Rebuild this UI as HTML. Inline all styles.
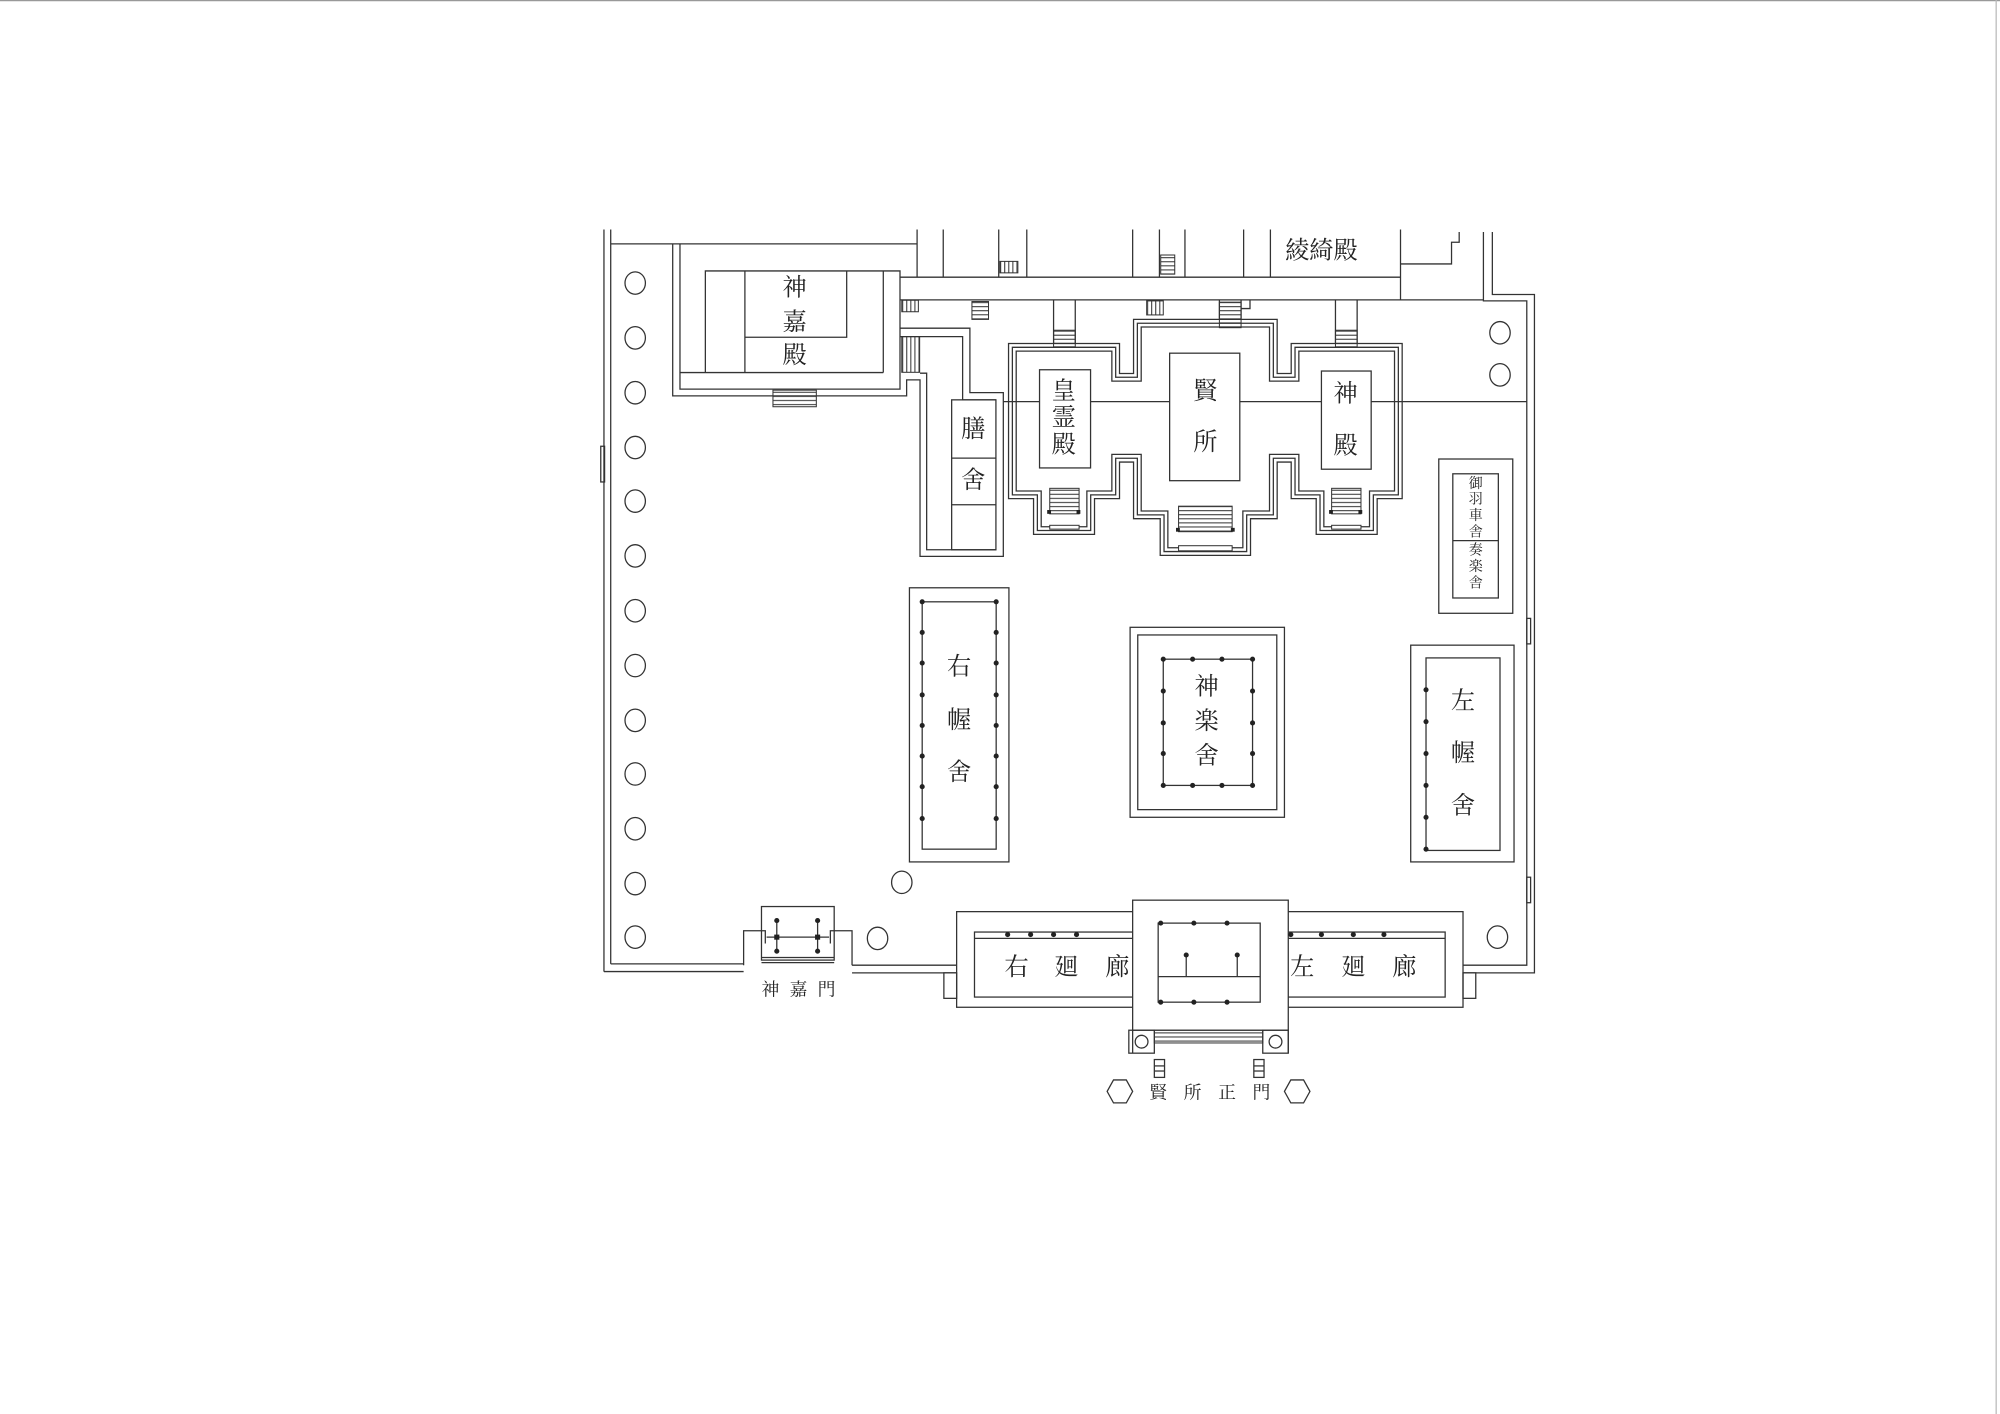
<!DOCTYPE html>
<html><head><meta charset="utf-8"><style>
html,body{margin:0;padding:0;background:#fff;}
svg{display:block;}
text{font-family:"Liberation Serif","Noto Serif CJK SC","Noto Sans CJK JP",serif;fill:#222;text-anchor:middle;dominant-baseline:central;}
</style></head><body>
<svg width="2000" height="1414" viewBox="0 0 1568 1109" preserveAspectRatio="none" xmlns="http://www.w3.org/2000/svg">
<defs>
<pattern id="hs" width="4" height="3.2" patternUnits="userSpaceOnUse"><line x1="0" y1="0.5" x2="4" y2="0.5" stroke="#333" stroke-width="0.8"/></pattern>
<pattern id="vs" width="3.2" height="4" patternUnits="userSpaceOnUse"><line x1="0.5" y1="0" x2="0.5" y2="4" stroke="#333" stroke-width="0.8"/></pattern>
</defs>
<rect width="1568" height="1109" fill="#fff"/>
<line x1="0" y1="0.5" x2="1568" y2="0.5" stroke="#999" stroke-width="1"/>
<line x1="1565" y1="0" x2="1565" y2="1109" stroke="#bbb" stroke-width="1"/>
<g fill="none" stroke="#333" stroke-width="1">
<!-- enclosure -->
<line x1="473.5" y1="180" x2="473.5" y2="762"/>
<line x1="478.8" y1="180" x2="478.8" y2="756"/>
<line x1="478.8" y1="191.3" x2="719" y2="191.3"/>
<polyline points="473.5,762 583,762"/><polyline points="478.8,756 583,756"/>
<polyline points="668,757 750,757"/><polyline points="668,763 750,763"/>
<polyline points="1147,757 1197,757 1197,236 1163,236 1163,182"/>
<polyline points="1147,763 1203,763 1203,231 1170,231 1170,182"/>
<rect x="471" y="350" width="3" height="28"/><rect x="1197" y="485" width="3" height="20"/><rect x="1197" y="688" width="3" height="20"/>
<!-- top corridors -->
<line x1="705.6" y1="217.4" x2="1098" y2="217.4"/>
<line x1="705.6" y1="235.2" x2="1163" y2="235.2"/>
<line x1="719" y1="180" x2="719" y2="217"/><line x1="739.5" y1="180" x2="739.5" y2="217"/>
<line x1="783" y1="180" x2="783" y2="217"/><line x1="805" y1="180" x2="805" y2="217"/>
<line x1="888" y1="180" x2="888" y2="217"/><line x1="909" y1="180" x2="909" y2="217"/>
<line x1="929" y1="180" x2="929" y2="217"/><line x1="975" y1="180" x2="975" y2="217"/>
<line x1="996" y1="180" x2="996" y2="217"/><line x1="1098" y1="180" x2="1098" y2="235"/>
<polyline points="1098,207 1138,207 1138,190 1144,190 1144,182"/>
<!-- 神嘉殿 -->
<polyline points="527.4,191.3 527.4,310.5 710.8,310.5 710.8,297.9 721.3,297.9 721.3,436.4 786.6,436.4 786.6,307.9 760.4,307.9 760.4,257.4 705.6,257.4"/>
<polyline points="533.1,191.3 533.1,305.2 705.6,305.2 705.6,212.5 553,212.5 553,292.2"/>
<line x1="533.1" y1="292.2" x2="692.5" y2="292.2"/>
<line x1="584" y1="212.5" x2="584" y2="292.2"/><line x1="692.5" y1="212.5" x2="692.5" y2="292.2"/>
<polyline points="584,264.5 663.8,264.5 663.8,212.5"/>
<polyline points="705.6,264 754.7,264 754.7,313.6 780.8,313.6"/>
<polyline points="721.3,292.7 726.5,292.7 726.5,431.2 780.8,431.2"/>
<rect x="746.1" y="313.6" width="34.7" height="117.6"/>
<line x1="746.1" y1="359.3" x2="780.8" y2="359.3"/><line x1="746.1" y1="395.9" x2="780.8" y2="395.9"/>
<!-- central complex triple outline -->
<g stroke-linejoin="miter">
<polygon id="cx" points="945,253.5 998.3,253.5 998.3,295.9 1015.3,295.9 1015.3,272.4 1096.3,272.4 1096.3,388.1 1076.7,388.1 1076.7,416.1 1034.9,416.1 1034.9,388.1 1015.3,388.1 1015.3,359.4 998.3,359.4 998.3,403.8 977.4,403.8 977.4,432.6 912.6,432.6 912.6,403.8 891.7,403.8 891.7,359.4 874.7,359.4 874.7,388.1 855.1,388.1 855.1,416.1 813.3,416.1 813.3,388.1 793.7,388.1 793.7,272.4 874.7,272.4 874.7,295.9 891.7,295.9 891.7,253.5" stroke="#333" stroke-width="7"/>
<polygon points="945,253.5 998.3,253.5 998.3,295.9 1015.3,295.9 1015.3,272.4 1096.3,272.4 1096.3,388.1 1076.7,388.1 1076.7,416.1 1034.9,416.1 1034.9,388.1 1015.3,388.1 1015.3,359.4 998.3,359.4 998.3,403.8 977.4,403.8 977.4,432.6 912.6,432.6 912.6,403.8 891.7,403.8 891.7,359.4 874.7,359.4 874.7,388.1 855.1,388.1 855.1,416.1 813.3,416.1 813.3,388.1 793.7,388.1 793.7,272.4 874.7,272.4 874.7,295.9 891.7,295.9 891.7,253.5" stroke="#fff" stroke-width="5"/>
<polygon points="945,253.5 998.3,253.5 998.3,295.9 1015.3,295.9 1015.3,272.4 1096.3,272.4 1096.3,388.1 1076.7,388.1 1076.7,416.1 1034.9,416.1 1034.9,388.1 1015.3,388.1 1015.3,359.4 998.3,359.4 998.3,403.8 977.4,403.8 977.4,432.6 912.6,432.6 912.6,403.8 891.7,403.8 891.7,359.4 874.7,359.4 874.7,388.1 855.1,388.1 855.1,416.1 813.3,416.1 813.3,388.1 793.7,388.1 793.7,272.4 874.7,272.4 874.7,295.9 891.7,295.9 891.7,253.5" stroke="#333" stroke-width="1"/>
</g>
<line x1="786.6" y1="315" x2="815" y2="315"/><line x1="855" y1="315" x2="917" y2="315"/>
<line x1="972" y1="315" x2="1036" y2="315"/><line x1="1075" y1="315" x2="1197" y2="315"/>
<line x1="826" y1="235" x2="826" y2="269"/><line x1="843" y1="235" x2="843" y2="269"/>
<line x1="1047" y1="235" x2="1047" y2="269"/><line x1="1064" y1="235" x2="1064" y2="269"/>
<line x1="956" y1="235" x2="956" y2="250"/><line x1="973" y1="235" x2="973" y2="250"/>
<polyline points="973,242 980,242 980,235"/>
<rect x="815" y="290" width="40" height="77" fill="#fff"/>
<rect x="917" y="277" width="55" height="100" fill="#fff"/>
<rect x="1036" y="291" width="39" height="77" fill="#fff"/>
<!-- 御羽車舎 -->
<rect x="1128" y="360" width="58" height="121"/>
<rect x="1139" y="371.6" width="35.7" height="97.4"/>
<line x1="1139" y1="424" x2="1174.7" y2="424"/>
<!-- 右幄舎 -->
<rect x="713" y="461" width="78" height="215"/>
<rect x="723" y="472" width="58" height="194"/>
<!-- 神楽舎 -->
<rect x="886" y="492" width="121" height="149"/>
<rect x="892" y="498" width="109" height="137"/>
<rect x="912" y="517" width="70" height="99"/>
<!-- 左幄舎 -->
<rect x="1106" y="506" width="81" height="170"/>
<rect x="1118" y="516" width="58" height="151"/>
<!-- 神嘉門 -->
<rect x="597" y="711" width="57" height="42"/>
<polyline points="583,757 583,730 600,730 600,740"/><polyline points="668,757 668,730 651,730 651,740"/>
<line x1="597" y1="751" x2="654" y2="751"/><line x1="597" y1="755" x2="654" y2="755"/>
<line x1="609" y1="722" x2="609" y2="746"/><line x1="641" y1="722" x2="641" y2="746"/>
<line x1="601" y1="735" x2="650" y2="735"/>
<!-- corridors -->
<rect x="750" y="715" width="397" height="75"/>
<rect x="764" y="731" width="369" height="51"/>
<line x1="764" y1="736" x2="908" y2="736"/><line x1="988" y1="736" x2="1133" y2="736"/>
<rect x="888" y="706" width="122" height="102" fill="#fff"/>
<line x1="888" y1="808" x2="888" y2="826"/><line x1="1010" y1="808" x2="1010" y2="826"/>
<rect x="908" y="724" width="80" height="62" fill="#fff"/>
<line x1="908" y1="766" x2="988" y2="766"/>
<line x1="930" y1="749" x2="930" y2="766"/><line x1="970" y1="749" x2="970" y2="766"/>
<rect x="885" y="808" width="20" height="18"/><rect x="990" y="808" width="20" height="18"/>
<circle cx="895" cy="817" r="5"/><circle cx="1000" cy="817" r="5"/>
<rect x="740" y="763" width="10" height="20"/><rect x="1147" y="763" width="10" height="20"/>
<rect x="905" y="831" width="8" height="14"/><rect x="983" y="831" width="8" height="14"/>
<line x1="905" y1="836" x2="913" y2="836"/><line x1="905" y1="840" x2="913" y2="840"/>
<line x1="983" y1="836" x2="991" y2="836"/><line x1="983" y1="840" x2="991" y2="840"/>
<polygon points="873,847 883,847 888,856 883,865 873,865 868,856"/>
<polygon points="1012,847 1022,847 1027,856 1022,865 1012,865 1007,856"/>
<!-- columns -->
<g>
<ellipse cx="498" cy="222" rx="8" ry="8.8"/><ellipse cx="498" cy="265" rx="8" ry="8.8"/>
<ellipse cx="498" cy="308" rx="8" ry="8.8"/><ellipse cx="498" cy="351" rx="8" ry="8.8"/>
<ellipse cx="498" cy="393" rx="8" ry="8.8"/><ellipse cx="498" cy="436" rx="8" ry="8.8"/>
<ellipse cx="498" cy="479" rx="8" ry="8.8"/><ellipse cx="498" cy="522" rx="8" ry="8.8"/>
<ellipse cx="498" cy="565" rx="8" ry="8.8"/><ellipse cx="498" cy="607" rx="8" ry="8.8"/>
<ellipse cx="498" cy="650" rx="8" ry="8.8"/><ellipse cx="498" cy="693" rx="8" ry="8.8"/>
<ellipse cx="498" cy="735" rx="8" ry="8.8"/>
<ellipse cx="707" cy="692" rx="8" ry="8.8"/><ellipse cx="688" cy="736" rx="8" ry="8.8"/>
<ellipse cx="1176" cy="261" rx="8" ry="8.8"/><ellipse cx="1176" cy="294" rx="8" ry="8.8"/>
<ellipse cx="1174" cy="735" rx="8" ry="8.8"/>
</g>
</g>
<!-- stairs -->
<g stroke="#333" stroke-width="0.8">
<rect x="606" y="306" width="34" height="13" fill="url(#hs)"/>
<rect x="707" y="235.5" width="13" height="9" fill="url(#vs)"/>
<rect x="707" y="264" width="14" height="28" fill="url(#vs)"/>
<rect x="762" y="236.5" width="13" height="14" fill="url(#hs)"/>
<rect x="784" y="205" width="14" height="9" fill="url(#vs)"/>
<rect x="910" y="200" width="11" height="15" fill="url(#hs)"/>
<rect x="899" y="236" width="13" height="11" fill="url(#vs)"/>
<rect x="956" y="237" width="17" height="20" fill="url(#hs)"/>
<rect x="826" y="259" width="17" height="13" fill="url(#hs)"/>
<rect x="1047" y="259" width="17" height="13" fill="url(#hs)"/>
<rect x="823" y="383" width="23" height="20" fill="url(#hs)"/>
<rect x="1044" y="383" width="23" height="20" fill="url(#hs)"/>
<rect x="924" y="397" width="42" height="20" fill="url(#hs)"/>
<rect x="823" y="412" width="23" height="3" fill="#fff"/>
<rect x="924" y="428" width="42" height="4" fill="#fff"/>
<rect x="1044" y="412" width="23" height="3" fill="#fff"/>
<rect x="905" y="808" width="85" height="10" fill="url(#hs)"/>
</g>
<!-- dots -->
<g fill="#222">
<rect x="821" y="400" width="3" height="3"/><rect x="844" y="400" width="3" height="3"/>
<rect x="1042" y="400" width="3" height="3"/><rect x="1065" y="400" width="3" height="3"/>
<rect x="922" y="414" width="3" height="3"/><rect x="965" y="414" width="3" height="3"/>
<circle cx="723" cy="472" r="2"/><circle cx="781" cy="472" r="2"/>
<circle cx="723" cy="496" r="2"/><circle cx="781" cy="496" r="2"/>
<circle cx="723" cy="520" r="2"/><circle cx="781" cy="520" r="2"/>
<circle cx="723" cy="545" r="2"/><circle cx="781" cy="545" r="2"/>
<circle cx="723" cy="569" r="2"/><circle cx="781" cy="569" r="2"/>
<circle cx="723" cy="593" r="2"/><circle cx="781" cy="593" r="2"/>
<circle cx="723" cy="617" r="2"/><circle cx="781" cy="617" r="2"/>
<circle cx="723" cy="642" r="2"/><circle cx="781" cy="642" r="2"/>
<circle cx="912" cy="517" r="2"/><circle cx="935" cy="517" r="2"/><circle cx="958" cy="517" r="2"/><circle cx="982" cy="517" r="2"/>
<circle cx="912" cy="616" r="2"/><circle cx="935" cy="616" r="2"/><circle cx="958" cy="616" r="2"/><circle cx="982" cy="616" r="2"/>
<circle cx="912" cy="542" r="2"/><circle cx="982" cy="542" r="2"/>
<circle cx="912" cy="567" r="2"/><circle cx="982" cy="567" r="2"/>
<circle cx="912" cy="591" r="2"/><circle cx="982" cy="591" r="2"/>
<circle cx="1118" cy="541" r="2"/><circle cx="1118" cy="566" r="2"/><circle cx="1118" cy="591" r="2"/>
<circle cx="1118" cy="616" r="2"/><circle cx="1118" cy="641" r="2"/><circle cx="1118" cy="666" r="2"/>
<circle cx="609" cy="722" r="2"/><circle cx="641" cy="722" r="2"/><circle cx="609" cy="746" r="2"/><circle cx="641" cy="746" r="2"/>
<rect x="607" y="733" width="4" height="4"/><rect x="639" y="733" width="4" height="4"/>
<circle cx="790" cy="733" r="2"/><circle cx="808" cy="733" r="2"/><circle cx="826" cy="733" r="2"/><circle cx="844" cy="733" r="2"/>
<circle cx="1012" cy="733" r="2"/><circle cx="1036" cy="733" r="2"/><circle cx="1061" cy="733" r="2"/><circle cx="1085" cy="733" r="2"/>
<circle cx="910" cy="724" r="2"/><circle cx="936" cy="724" r="2"/><circle cx="962" cy="724" r="2"/>
<circle cx="910" cy="786" r="2"/><circle cx="936" cy="786" r="2"/><circle cx="962" cy="786" r="2"/>
<circle cx="930" cy="749" r="2"/><circle cx="970" cy="749" r="2"/>
</g>
<!-- labels -->
<g font-size="19">
<text x="1036" y="197">綾綺殿</text>
<text x="623" y="226">神</text><text x="623" y="253">嘉</text><text x="623" y="279">殿</text>
<text x="763" y="337">膳</text><text x="763" y="377">舍</text>
<text x="834" y="307">皇</text><text x="834" y="328">霊</text><text x="834" y="349">殿</text>
<text x="945" y="307">賢</text><text x="945" y="347">所</text>
<text x="1055" y="309">神</text><text x="1055" y="350">殿</text>
<text x="752" y="523">右</text><text x="752" y="565">幄</text><text x="752" y="606">舍</text>
<text x="946" y="539">神</text><text x="946" y="566">楽</text><text x="946" y="593">舍</text>
<text x="1147" y="550">左</text><text x="1147" y="591">幄</text><text x="1147" y="632">舍</text>
<text x="797" y="759">右</text><text x="836" y="759">廻</text><text x="876" y="759">廊</text>
<text x="1021" y="759">左</text><text x="1061" y="759">廻</text><text x="1101" y="759">廊</text>
</g>
<g font-size="11">
<text x="1157" y="380">御</text><text x="1157" y="392">羽</text><text x="1157" y="405">車</text><text x="1157" y="418">舎</text>
<text x="1157" y="432">奏</text><text x="1157" y="445">楽</text><text x="1157" y="458">舎</text>
</g>
<g font-size="14">
<text x="604" y="776">神</text><text x="626" y="776">嘉</text><text x="648" y="776">門</text>
<text x="908" y="857">賢</text><text x="935" y="857">所</text><text x="962" y="857">正</text><text x="989" y="857">門</text>
</g>
</svg>
</body></html>
